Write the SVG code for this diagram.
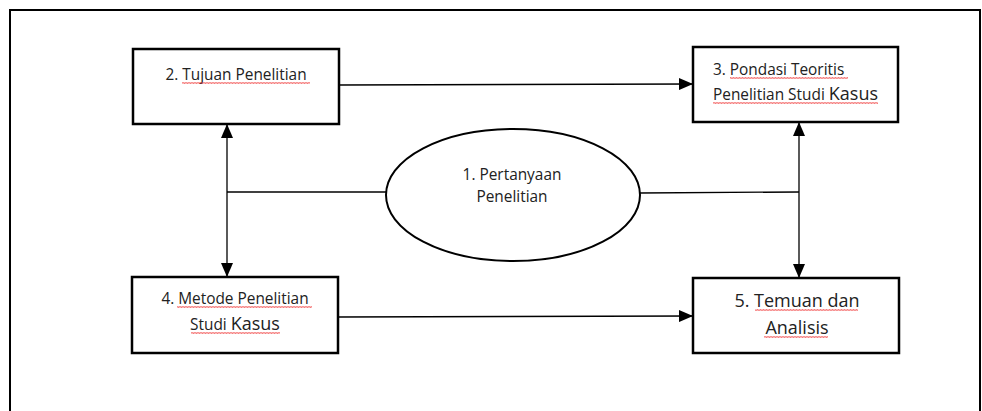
<svg xmlns="http://www.w3.org/2000/svg" width="982" height="411" viewBox="0 0 982 411">
<style>
.box{fill:#fff;stroke:#000;stroke-width:2.5}
.ln{fill:none;stroke:#000;stroke-width:1.3}
.t{font-family:"Open Sans","Noto Sans",sans-serif;font-size:15.4px;fill:#222}
.tb{font-family:"Open Sans","Noto Sans",sans-serif;font-size:18px;fill:#222}
.k{font-size:18px}
.sq{fill:url(#wave)}
</style>
<defs>
<marker id="ah" viewBox="0 0 14 12" refX="14" refY="6" markerWidth="14" markerHeight="12" markerUnits="userSpaceOnUse" orient="auto-start-reverse">
<path d="M0,0 L14,6 L0,12 Z" fill="#000"/>
</marker>
<pattern id="wave" width="3" height="2" patternUnits="userSpaceOnUse">
<path d="M0,1.8 L0.75,0.3 L1.5,1.8 L2.25,0.3 L3,1.8" fill="none" stroke="#e33" stroke-width="0.6"/>
</pattern>
</defs>
<rect x="10" y="10" width="970" height="410" fill="none" stroke="#000" stroke-width="2"/>
<g id="connectors">
<line class="ln" x1="339" y1="85" x2="693" y2="84" marker-end="url(#ah)"/>
<line class="ln" x1="338" y1="317" x2="693" y2="316" marker-end="url(#ah)"/>
<line class="ln" x1="227" y1="124" x2="227" y2="277" marker-start="url(#ah)" marker-end="url(#ah)"/>
<line class="ln" x1="799" y1="122" x2="799" y2="278" marker-start="url(#ah)" marker-end="url(#ah)"/>
<line class="ln" x1="227" y1="192" x2="386" y2="192"/>
<line class="ln" x1="640" y1="193" x2="799" y2="192"/>
</g>
<g id="node1">
<ellipse cx="513" cy="195" rx="127" ry="66" fill="#fff" stroke="#000" stroke-width="2"/>
<text class="t" x="512" y="180" text-anchor="middle">1. Pertanyaan</text>
<text class="t" x="512" y="202" text-anchor="middle">Penelitian</text>
</g>
<g id="node2">
<rect class="box" x="133" y="49" width="206" height="75"/>
<text class="t" x="236" y="80" text-anchor="middle">2. Tujuan Penelitian</text>
<rect class="sq" x="182" y="82" width="128" height="2"/>
</g>
<g id="node3">
<rect class="box" x="693" y="47" width="205" height="75"/>
<text class="t" x="713" y="75">3. Pondasi Teoritis</text>
<text class="t" x="713" y="100">Penelitian Studi <tspan class="k">Kasus</tspan></text>
<rect class="sq" x="730" y="77" width="118" height="2"/>
<rect class="sq" x="713" y="102" width="165" height="2"/>
</g>
<g id="node4">
<rect class="box" x="132" y="277" width="206" height="76"/>
<text class="t" x="235" y="304" text-anchor="middle">4. Metode Penelitian</text>
<text class="t" x="235" y="330" text-anchor="middle">Studi <tspan class="k">Kasus</tspan></text>
<rect class="sq" x="177" y="306" width="135" height="2"/>
<rect class="sq" x="191" y="332" width="89" height="2"/>
</g>
<g id="node5">
<rect class="box" x="693" y="278" width="206" height="75"/>
<text class="tb" x="797" y="307" text-anchor="middle">5. Temuan dan</text>
<text class="tb" x="797" y="334" text-anchor="middle">Analisis</text>
<rect class="sq" x="755" y="309" width="103" height="2"/>
<rect class="sq" x="764" y="336" width="64" height="2"/>
</g>
</svg>
